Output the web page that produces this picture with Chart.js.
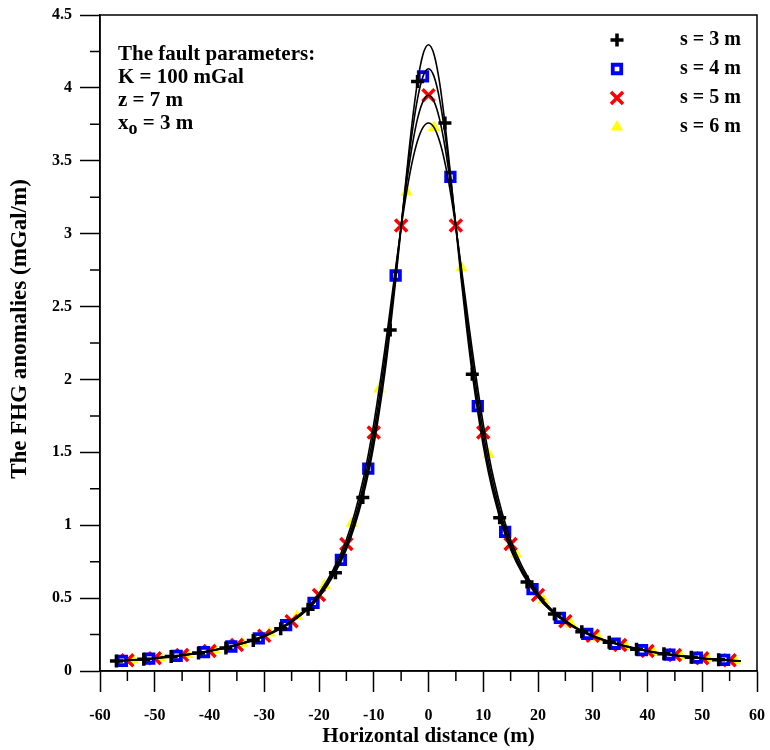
<!DOCTYPE html>
<html lang="en">
<head>
<meta charset="utf-8" />
<title>FHG anomalies</title>
<style>
  * { margin: 0; padding: 0; }
  body { background: #fff; }
</style>
</head>
<body>
<canvas id="myChart" width="770" height="750"></canvas>

<script src="https://cdn.jsdelivr.net/npm/chart.js@4.4.1/dist/chart.umd.min.js"></script>
<script>
// data block
const xS3 = [-57, -52, -47, -42, -37, -32, -27, -22, -17, -12, -7, -2, 3, 8, 13, 18, 23, 28, 33, 38, 43, 48, 53];
const yS3 = [0.068, 0.081, 0.099, 0.124, 0.158, 0.209, 0.290, 0.424, 0.674, 1.191, 2.339, 4.043, 3.759, 2.036, 1.052, 0.610, 0.391, 0.270, 0.197, 0.150, 0.118, 0.095, 0.078];

const xS4 = [-56, -51, -46, -41, -36, -31, -26, -21, -16, -11, -6, -1, 4, 9, 14, 19, 24, 29, 34, 39, 44, 49, 54];
const yS4 = [0.070, 0.085, 0.104, 0.130, 0.168, 0.224, 0.314, 0.468, 0.762, 1.388, 2.713, 4.079, 3.390, 1.817, 0.954, 0.562, 0.365, 0.255, 0.187, 0.143, 0.113, 0.092, 0.076];

const xS5 = [-55, -50, -45, -40, -35, -30, -25, -20, -15, -10, -5, 0, 5, 10, 15, 20, 25, 30, 35, 40, 45, 50, 55];
const yS5 = [0.073, 0.088, 0.109, 0.137, 0.178, 0.241, 0.342, 0.521, 0.871, 1.636, 3.056, 3.949, 3.056, 1.636, 0.871, 0.521, 0.342, 0.241, 0.178, 0.137, 0.109, 0.088, 0.073];

const xS6 = [-54, -49, -44, -39, -34, -29, -24, -19, -14, -9, -4, 1, 6, 11, 16, 21, 26, 31, 36, 41, 46, 51, 56];
const yS6 = [0.076, 0.092, 0.114, 0.145, 0.190, 0.260, 0.376, 0.586, 1.014, 1.935, 3.285, 3.729, 2.766, 1.485, 0.803, 0.485, 0.322, 0.228, 0.170, 0.131, 0.105, 0.085, 0.071];

// calculated curves (black lines)
const lineX = [-57, -50, -40, -30, -25, -20, -15, -12, -10, -8, -7, -6, -5, -4, -3, -2, -1, 0, 1, 2, 3, 4, 5, 6, 7, 8, 10, 12, 15, 20, 25, 30, 40, 50, 57];
const lineS3 = [0.068, 0.086, 0.136, 0.237, 0.335, 0.505, 0.834, 1.191, 1.546, 2.036, 2.339, 2.678, 3.043, 3.414, 3.759, 4.043, 4.231, 4.296, 4.231, 4.043, 3.759, 3.414, 3.043, 2.678, 2.339, 2.036, 1.546, 1.191, 0.834, 0.505, 0.335, 0.237, 0.136, 0.086, 0.068];
const lineS4 = [0.068, 0.088, 0.136, 0.239, 0.338, 0.512, 0.851, 1.219, 1.586, 2.082, 2.384, 2.713, 3.055, 3.390, 3.690, 3.927, 4.079, 4.131, 4.079, 3.927, 3.690, 3.390, 3.055, 2.713, 2.384, 2.082, 1.586, 1.219, 0.851, 0.512, 0.338, 0.239, 0.136, 0.088, 0.068];
const lineS5 = [0.068, 0.088, 0.137, 0.241, 0.342, 0.521, 0.871, 1.257, 1.636, 2.139, 2.433, 2.744, 3.056, 3.348, 3.598, 3.789, 3.908, 3.949, 3.908, 3.789, 3.598, 3.348, 3.056, 2.744, 2.433, 2.139, 1.636, 1.257, 0.871, 0.521, 0.342, 0.241, 0.137, 0.088, 0.068];
const lineS6 = [0.068, 0.089, 0.138, 0.243, 0.347, 0.532, 0.900, 1.303, 1.696, 2.199, 2.480, 2.766, 3.040, 3.285, 3.487, 3.637, 3.729, 3.759, 3.729, 3.637, 3.487, 3.285, 3.040, 2.766, 2.480, 2.199, 1.696, 1.303, 0.900, 0.532, 0.347, 0.243, 0.138, 0.089, 0.068];

const seriesLabels = ["s = 3 m", "s = 4 m", "s = 5 m", "s = 6 m"];
const infoLines = ["The fault parameters:", "K = 100 mGal", "z = 7 m"];
const yTitle = "The FHG anomalies (mGal/m)";

const pts = (xs, ys) => xs.map((x, i) => ({ x: x, y: ys[i] }));

const FONT = "'Liberation Serif', 'Times New Roman', serif";
Chart.defaults.font.family = FONT;
Chart.defaults.font.weight = "bold";
Chart.defaults.color = "#000";

const lineSet = (ys) => ({
  type: "line",
  data: pts(lineX, ys),
  borderColor: "#000",
  borderWidth: 1.6,
  pointRadius: 0,
  fill: false,
  cubicInterpolationMode: "monotone",
  order: 0,
});

const data = {
  datasets: [
    lineSet(lineS3),
    lineSet(lineS4),
    lineSet(lineS5),
    lineSet(lineS6),
    {
      label: seriesLabels[0],
      data: pts(xS3, yS3),
      pointStyle: "cross",
      pointRadius: 6.5,
      pointBorderWidth: 3.5,
      borderColor: "#000",
      backgroundColor: "#000",
      order: 1,
    },
    {
      label: seriesLabels[1],
      data: pts(xS4, yS4),
      pointStyle: "rect",
      pointRadius: 6,
      pointBorderWidth: 3.8,
      borderColor: "#0000ff",
      backgroundColor: "#fff",
      order: 2,
    },
    {
      label: seriesLabels[2],
      data: pts(xS5, yS5),
      pointStyle: "crossRot",
      pointRadius: 8.5,
      pointBorderWidth: 3.5,
      borderColor: "#ff0000",
      backgroundColor: "#ff0000",
      order: 3,
    },
    {
      label: seriesLabels[3],
      data: pts(xS6, yS6),
      pointStyle: "triangle",
      pointRadius: 7,
      pointBorderWidth: 0,
      borderColor: "#ffff00",
      backgroundColor: "#ffff00",
      order: 4,
    },
  ],
};

// frame + minor ticks
const frameTicks = {
  id: "frameTicks",
  beforeDatasetsDraw(chart) {
    const { ctx, chartArea: { left, right, top, bottom }, scales: { x, y } } = chart;
    ctx.save();
    ctx.strokeStyle = "#000";
    ctx.lineWidth = 1.5;
    ctx.strokeRect(left, top, right - left, bottom - top);
    ctx.beginPath();
    for (let v = -55; v < 60; v += 10) {
      const px = x.getPixelForValue(v);
      ctx.moveTo(px, bottom);
      ctx.lineTo(px, bottom + 10);
    }
    for (let v = 0.25; v < 4.5; v += 0.5) {
      const py = y.getPixelForValue(v);
      ctx.moveTo(left, py);
      ctx.lineTo(left - 10, py);
    }
    ctx.stroke();
    ctx.restore();
  },
};

// legend, y title + parameter text
const notes = {
  id: "notes",
  afterDraw(chart) {
    const { ctx } = chart;
    ctx.save();
    ctx.textBaseline = "middle";
    ctx.fillStyle = "#000";

    // y axis title
    ctx.save();
    ctx.font = "bold 23px " + FONT;
    ctx.textAlign = "center";
    ctx.translate(20, 329);
    ctx.rotate(-Math.PI / 2);
    ctx.fillText(yTitle, 0, 0);
    ctx.restore();

    // parameters box
    ctx.font = "bold 21px " + FONT;
    ctx.textAlign = "left";
    const lx = 118;
    const ly = [55, 78, 101];
    infoLines.forEach((t, i) => ctx.fillText(t, lx, ly[i]));
    ctx.fillText("x", lx, 124);
    const wx = ctx.measureText("x").width;
    ctx.font = "bold 18px " + FONT;
    ctx.fillText("o", lx + wx, 129);
    const wo = ctx.measureText("o").width;
    ctx.font = "bold 21px " + FONT;
    ctx.fillText(" = 3 m", lx + wx + wo, 124);

    // legend
    ctx.font = "bold 20px " + FONT;
    const markerSets = chart.data.datasets.slice(4);
    markerSets.forEach((ds, i) => {
      const yy = 40 + i * 29;
      ctx.fillStyle = ds.backgroundColor;
      ctx.strokeStyle = ds.borderColor;
      ctx.lineWidth = ds.pointBorderWidth;
      Chart.helpers.drawPoint(ctx, {
        pointStyle: ds.pointStyle,
        radius: ds.pointRadius,
        borderWidth: ds.pointBorderWidth,
        rotation: 0,
      }, 617, yy);
      ctx.fillStyle = "#000";
      ctx.fillText(ds.label, 680, yy);
    });
    ctx.restore();
  },
};

// config block
const config = {
  type: "scatter",
  data: data,
  options: {
    responsive: false,
    animation: false,
    layout: { padding: { top: 15, right: 13, left: 0, bottom: 0 } },
    plugins: {
      legend: { display: false },
      tooltip: { enabled: false },
    },
    scales: {
      x: {
        type: "linear",
        min: -60,
        max: 60,
        afterFit: (scale) => {
          scale.height = 79;
          scale.paddingLeft = 0;
          scale.paddingRight = 0;
        },
        ticks: { stepSize: 10, padding: 14, font: { size: 16, weight: "bold" }, color: "#000" },
        grid: { drawOnChartArea: false, tickLength: 21, tickColor: "#000", tickWidth: 1.5 },
        border: { display: true, color: "#000", width: 1.5 },
        title: {
          display: true,
          text: "Horizontal distance (m)",
          font: { size: 21, weight: "bold" },
          color: "#000",
          padding: { top: 0, bottom: 1 },
        },
      },
      y: {
        type: "linear",
        min: 0,
        max: 4.5,
        afterFit: (scale) => {
          scale.width = 100;
          scale.paddingTop = 0;
          scale.paddingBottom = 0;
        },
        ticks: {
          stepSize: 0.5,
          padding: 8,
          font: { size: 16, weight: "bold" },
          color: "#000",
          callback: (v) => String(Math.round(v * 10) / 10),
        },
        grid: { drawOnChartArea: false, tickLength: 20, tickColor: "#000", tickWidth: 1.5 },
        border: { display: true, color: "#000", width: 1.5 },
      },
    },
  },
  plugins: [frameTicks, notes],
};

// init render block
const myChart = new Chart(document.getElementById("myChart"), config);
</script>
</body>
</html>
